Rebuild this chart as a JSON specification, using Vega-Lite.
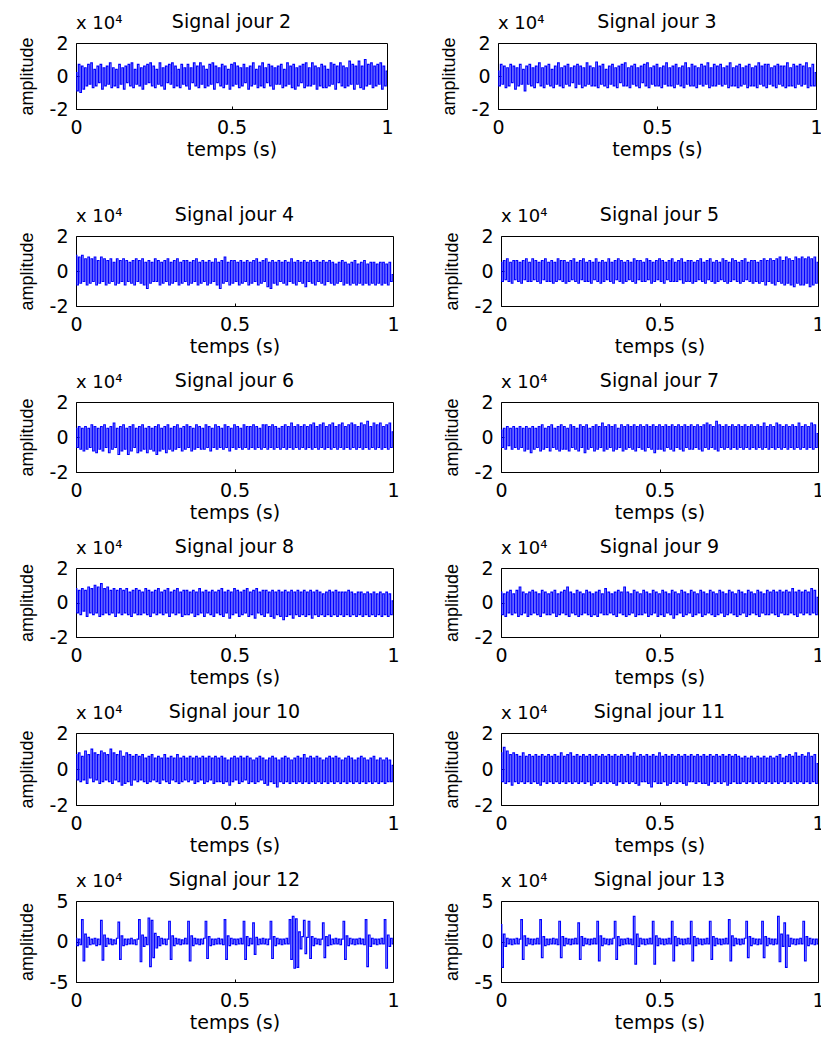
{
"$schema": "https://vega.github.io/schema/vega-lite/v6.json",
"padding": {"left": 17, "top": 12, "right": -4, "bottom": 0},
"config": {
 "locale": {"number": {"decimal": ".", "thousands": ",", "grouping": [3], "currency": ["$", ""], "minus": "-"}},
 "view": {"stroke": "#000000", "strokeWidth": 1},
 "axis": {"grid": false, "domain": false, "labelFont": "DejaVu Sans", "labelFontSize": 19, "labelColor": "#000000", "tickColor": "#000000", "tickSize": -3, "tickWidth": 1, "titleColor": "#000000", "titleFontWeight": "normal", "labelFlush": false, "labelOverlap": false},
 "axisX": {"labelPadding": 12, "titleFont": "DejaVu Sans", "titleFontSize": 19, "titlePadding": 3},
 "axisY": {"labelPadding": 11, "titleFont": "Liberation Sans", "titleFontSize": 18, "titlePadding": 13},
 "title": {"font": "DejaVu Sans", "fontSize": 19, "fontWeight": "normal", "color": "#000000", "baseline": "alphabetic", "offset": -17, "anchor": "middle", "frame": "group"}
},
"datasets": {"sig": [{
"t": [0,0.005,0.01,0.015,0.02,0.025,0.03,0.035,0.04,0.045,0.05,0.055,0.06,0.065,0.07,0.075,0.08,0.085,0.09,0.095,0.1,0.105,0.11,0.115,0.12,0.125,0.13,0.135,0.14,0.145,0.15,0.155,0.16,0.165,0.17,0.175,0.18,0.185,0.19,0.195,0.2,0.205,0.21,0.215,0.22,0.225,0.23,0.235,0.24,0.245,0.25,0.255,0.26,0.265,0.27,0.275,0.28,0.285,0.29,0.295,0.3,0.305,0.31,0.315,0.32,0.325,0.33,0.335,0.34,0.345,0.35,0.355,0.36,0.365,0.37,0.375,0.38,0.385,0.39,0.395,0.4,0.405,0.41,0.415,0.42,0.425,0.43,0.435,0.44,0.445,0.45,0.455,0.46,0.465,0.47,0.475,0.48,0.485,0.49,0.495,0.5,0.505,0.51,0.515,0.52,0.525,0.53,0.535,0.54,0.545,0.55,0.555,0.56,0.565,0.57,0.575,0.58,0.585,0.59,0.595,0.6,0.605,0.61,0.615,0.62,0.625,0.63,0.635,0.64,0.645,0.65,0.655,0.66,0.665,0.67,0.675,0.68,0.685,0.69,0.695,0.7,0.705,0.71,0.715,0.72,0.725,0.73,0.735,0.74,0.745,0.75,0.755,0.76,0.765,0.77,0.775,0.78,0.785,0.79,0.795,0.8,0.805,0.81,0.815,0.82,0.825,0.83,0.835,0.84,0.845,0.85,0.855,0.86,0.865,0.87,0.875,0.88,0.885,0.89,0.895,0.9,0.905,0.91,0.915,0.92,0.925,0.93,0.935,0.94,0.945,0.95,0.955,0.96,0.965,0.97,0.975,0.98,0.985,0.99,0.995,1],
"j2": [0.2,-0.9,0.7,-1.0,0.6,-0.8,0.5,-0.6,0.7,-0.5,0.8,-0.7,0.4,-0.6,0.6,-0.4,0.7,-0.8,0.5,-0.6,0.6,-0.5,0.8,-0.7,0.5,-0.6,0.4,-0.7,0.7,-0.5,0.5,-0.8,0.6,-0.4,0.7,-0.6,0.8,-0.7,0.4,-0.5,0.7,-0.6,0.5,-0.8,0.6,-0.5,0.7,-0.4,0.8,-0.6,0.6,-0.7,0.4,-0.5,0.8,-0.6,0.5,-0.8,0.6,-0.4,0.7,-0.5,0.8,-0.7,0.6,-0.6,0.4,-0.7,0.7,-0.5,0.5,-0.6,0.7,-0.8,0.5,-0.4,0.8,-0.6,0.6,-0.7,0.8,-0.5,0.6,-0.7,0.4,-0.6,0.7,-0.5,0.8,-0.8,0.6,-0.4,0.5,-0.6,0.7,-0.7,0.6,-0.5,0.4,-0.8,0.7,-0.6,0.8,-0.5,0.6,-0.7,0.5,-0.6,0.7,-0.4,0.5,-0.8,0.6,-0.6,0.8,-0.5,0.4,-0.7,0.6,-0.6,0.8,-0.7,0.5,-0.4,0.7,-0.6,0.6,-0.8,0.5,-0.5,0.6,-0.5,0.7,-0.7,0.4,-0.6,0.8,-0.5,0.6,-0.7,0.7,-0.8,0.5,-0.6,0.6,-0.4,0.7,-0.7,0.8,-0.6,0.5,-0.6,0.8,-0.5,0.6,-0.8,0.5,-0.6,0.7,-0.7,0.6,-0.7,0.4,-0.6,0.8,-0.5,0.7,-0.8,0.6,-0.4,0.8,-0.6,0.6,-0.7,0.5,-0.6,0.9,-0.5,0.7,-0.8,0.6,-0.5,0.9,-0.7,0.6,-0.8,1.0,-0.6,0.7,-0.5,0.8,-0.7,0.6,-0.6,0.7,-0.5,0.8,-0.8,0.6,-0.6,0.3],
"j3": [0.3,-0.6,0.7,-0.5,0.6,-0.7,0.5,-0.6,0.7,-0.4,0.6,-0.8,0.5,-0.6,0.7,-0.5,0.4,-0.9,0.6,-0.5,0.7,-0.6,0.5,-0.7,0.6,-0.4,0.8,-0.6,0.5,-0.7,0.6,-0.5,0.7,-0.6,0.4,-0.7,0.6,-0.5,0.8,-0.6,0.5,-0.7,0.6,-0.5,0.7,-0.6,0.5,-0.4,0.6,-0.7,0.7,-0.5,0.6,-0.7,0.5,-0.6,0.8,-0.5,0.6,-0.6,0.5,-0.6,0.85,-0.7,0.6,-0.5,0.7,-0.6,0.4,-0.7,0.6,-0.5,0.7,-0.6,0.5,-0.7,0.6,-0.4,0.7,-0.6,0.8,-0.6,0.5,-0.7,0.6,-0.5,0.7,-0.6,0.5,-0.7,0.6,-0.4,0.7,-0.6,0.8,-0.7,0.5,-0.5,0.6,-0.6,0.7,-0.6,0.5,-0.7,0.6,-0.5,0.8,-0.6,0.5,-0.6,0.6,-0.7,0.7,-0.5,0.5,-0.6,0.6,-0.7,0.8,-0.5,0.5,-0.6,0.7,-0.6,0.6,-0.7,0.5,-0.5,0.7,-0.6,0.6,-0.5,0.8,-0.7,0.5,-0.6,0.7,-0.6,0.6,-0.5,0.7,-0.6,0.5,-0.5,0.6,-0.7,0.8,-0.6,0.5,-0.6,0.6,-0.7,0.7,-0.6,0.5,-0.5,0.6,-0.7,0.7,-0.6,0.5,-0.6,0.6,-0.7,0.8,-0.5,0.6,-0.6,0.7,-0.7,0.7,-0.5,0.5,-0.6,0.6,-0.7,0.7,-0.5,0.6,-0.6,0.6,-0.7,0.8,-0.6,0.5,-0.6,0.7,-0.7,0.6,-0.5,0.7,-0.6,0.6,-0.5,0.8,-0.7,0.5,-0.6,0.7,-0.6,0.2],
"j4": [0.9,-0.8,0.8,-0.7,0.9,-0.6,0.7,-0.8,0.8,-0.7,0.7,-0.6,0.8,-0.8,0.6,-0.7,0.8,-0.6,0.7,-0.8,0.6,-0.7,0.7,-0.6,0.5,-0.8,0.7,-0.7,0.6,-0.6,0.7,-0.8,0.6,-0.6,0.5,-0.7,0.6,-0.8,0.7,-0.6,0.6,-0.7,0.7,-0.8,0.5,-1.0,0.6,-0.7,0.5,-0.6,0.7,-0.6,0.6,-0.8,0.5,-0.7,0.6,-0.6,0.7,-0.8,0.5,-0.7,0.6,-0.6,0.7,-0.8,0.5,-0.7,0.6,-0.6,0.6,-0.8,0.5,-0.7,0.6,-0.6,0.7,-0.8,0.5,-0.7,0.6,-0.6,0.5,-0.8,0.6,-0.7,0.5,-0.6,0.7,-0.8,0.5,-1.0,0.6,-0.7,0.8,-0.6,0.5,-0.8,0.6,-0.7,0.6,-0.6,0.5,-0.8,0.6,-0.7,0.5,-0.6,0.6,-0.8,0.5,-0.7,0.6,-0.6,0.7,-0.8,0.5,-0.7,0.6,-0.6,0.7,-0.9,0.5,-1.0,0.6,-0.7,0.5,-0.8,0.6,-0.6,0.5,-0.7,0.6,-0.8,0.5,-0.6,0.7,-0.7,0.5,-0.8,0.6,-0.6,0.5,-0.7,0.6,-0.9,0.5,-0.6,0.6,-0.7,0.5,-0.8,0.6,-0.6,0.5,-0.7,0.6,-0.8,0.5,-0.6,0.6,-0.7,0.5,-0.8,0.4,-0.7,0.5,-0.6,0.6,-0.8,0.5,-0.7,0.4,-0.8,0.5,-0.7,0.6,-0.8,0.4,-0.7,0.5,-0.8,0.6,-0.7,0.4,-0.8,0.5,-0.7,0.5,-0.8,0.4,-0.7,0.5,-0.8,0.5,-0.7,0.4,-0.8,0.5,-0.6,-0.2],
"j5": [0.5,-0.6,0.6,-0.5,0.7,-0.6,0.5,-0.7,0.6,-0.5,0.6,-0.6,0.5,-0.7,0.6,-0.5,0.7,-0.6,0.5,-0.6,0.7,-0.5,0.6,-0.6,0.5,-0.7,0.6,-0.5,0.7,-0.6,0.5,-0.6,0.6,-0.7,0.5,-0.6,0.7,-0.5,0.6,-0.6,0.6,-0.7,0.5,-0.6,0.6,-0.5,0.7,-0.6,0.5,-0.7,0.6,-0.5,0.7,-0.6,0.5,-0.6,0.6,-0.7,0.5,-0.5,0.7,-0.6,0.5,-0.7,0.6,-0.6,0.5,-0.5,0.7,-0.6,0.5,-0.7,0.6,-0.5,0.7,-0.6,0.6,-0.7,0.5,-0.6,0.6,-0.5,0.5,-0.6,0.7,-0.7,0.6,-0.5,0.6,-0.6,0.5,-0.6,0.7,-0.5,0.6,-0.7,0.5,-0.6,0.6,-0.5,0.7,-0.6,0.6,-0.7,0.5,-0.5,0.6,-0.6,0.7,-0.6,0.5,-0.6,0.6,-0.5,0.7,-0.7,0.5,-0.6,0.6,-0.6,0.6,-0.7,0.5,-0.6,0.6,-0.5,0.7,-0.6,0.5,-0.7,0.6,-0.5,0.7,-0.6,0.5,-0.7,0.6,-0.6,0.5,-0.5,0.7,-0.6,0.6,-0.7,0.5,-0.6,0.7,-0.5,0.6,-0.6,0.5,-0.7,0.6,-0.6,0.7,-0.5,0.5,-0.6,0.6,-0.7,0.6,-0.6,0.5,-0.7,0.6,-0.6,0.7,-0.8,0.6,-0.6,0.7,-0.7,0.6,-0.8,0.7,-0.6,0.8,-0.7,0.6,-0.8,0.8,-0.7,0.7,-0.8,0.6,-0.9,0.8,-0.7,0.7,-0.8,0.8,-0.8,0.7,-0.7,0.8,-0.9,0.7,-0.8,0.8,-0.7,0.5],
"j6": [0.5,-0.6,0.6,-0.7,0.5,-0.8,0.6,-0.7,0.5,-0.6,0.7,-0.8,0.6,-0.9,0.5,-0.7,0.6,-0.8,0.7,-0.6,0.5,-0.9,0.6,-0.7,0.8,-0.6,0.5,-1.0,0.6,-0.8,0.7,-0.7,0.5,-1.0,0.6,-0.8,0.7,-0.6,0.5,-0.9,0.6,-0.8,0.7,-0.7,0.5,-0.9,0.6,-0.7,0.5,-0.8,0.6,-1.0,0.7,-0.8,0.5,-0.7,0.6,-0.9,0.7,-0.7,0.5,-0.8,0.6,-0.7,0.7,-0.6,0.5,-0.8,0.6,-0.7,0.7,-0.6,0.6,-0.8,0.5,-0.7,0.7,-0.6,0.6,-0.7,0.5,-0.7,0.7,-0.6,0.6,-0.8,0.5,-0.6,0.7,-0.7,0.6,-0.6,0.5,-0.7,0.7,-0.6,0.6,-0.8,0.5,-0.6,0.7,-0.7,0.6,-0.6,0.5,-0.7,0.7,-0.6,0.6,-0.7,0.6,-0.6,0.7,-0.7,0.6,-0.6,0.5,-0.7,0.7,-0.6,0.7,-0.7,0.6,-0.6,0.7,-0.7,0.6,-0.6,0.5,-0.7,0.6,-0.6,0.7,-0.7,0.6,-0.6,0.8,-0.7,0.6,-0.6,0.7,-0.7,0.6,-0.6,0.7,-0.7,0.6,-0.6,0.7,-0.7,0.8,-0.6,0.6,-0.7,0.7,-0.6,0.8,-0.7,0.6,-0.6,0.7,-0.7,0.8,-0.6,0.6,-0.7,0.7,-0.6,0.8,-0.7,0.6,-0.6,0.7,-0.7,0.8,-0.6,0.7,-0.7,0.6,-0.6,0.8,-0.7,0.7,-0.6,0.9,-0.7,0.6,-0.6,0.8,-0.7,0.7,-0.6,0.8,-0.7,0.6,-0.6,0.7,-0.7,0.8,-0.6,0.3],
"j7": [0.4,-0.6,0.5,-0.7,0.6,-0.5,0.5,-0.7,0.6,-0.6,0.5,-0.7,0.6,-0.6,0.5,-0.8,0.6,-0.7,0.5,-0.9,0.6,-0.7,0.5,-0.6,0.6,-0.8,0.7,-0.7,0.5,-0.6,0.6,-0.8,0.7,-0.6,0.5,-0.7,0.6,-0.8,0.7,-0.7,0.6,-0.7,0.5,-0.8,0.7,-0.6,0.6,-0.7,0.5,-0.8,0.7,-0.6,0.6,-0.9,0.7,-0.7,0.5,-0.6,0.6,-0.8,0.7,-0.7,0.6,-0.6,0.8,-0.8,0.6,-0.7,0.7,-0.6,0.6,-0.8,0.7,-0.7,0.5,-0.6,0.7,-0.8,0.6,-0.7,0.7,-0.6,0.6,-0.7,0.7,-0.8,0.6,-0.6,0.7,-0.7,0.6,-0.8,0.7,-0.6,0.6,-0.7,0.7,-0.9,0.6,-0.7,0.7,-0.7,0.6,-0.8,0.7,-0.6,0.6,-0.7,0.7,-0.8,0.6,-0.6,0.7,-0.7,0.6,-0.8,0.7,-0.6,0.6,-0.7,0.7,-0.7,0.6,-0.6,0.7,-0.7,0.6,-0.8,0.7,-0.6,0.8,-0.7,0.7,-0.6,0.6,-0.7,0.9,-0.8,0.7,-0.6,0.6,-0.7,0.7,-0.6,0.6,-0.7,0.7,-0.6,0.6,-0.7,0.7,-0.6,0.6,-0.7,0.7,-0.6,0.6,-0.7,0.7,-0.6,0.6,-0.7,0.7,-0.6,0.6,-0.7,0.8,-0.6,0.6,-0.7,0.7,-0.6,0.6,-0.7,0.8,-0.6,0.7,-0.7,0.6,-0.6,0.7,-0.7,0.6,-0.6,0.7,-0.7,0.6,-0.6,0.8,-0.7,0.6,-0.6,0.7,-0.7,0.6,-0.6,0.8,-0.7,0.7,-0.6,0.2],
"j8": [0.8,-0.6,0.7,-0.7,0.8,-0.5,0.7,-0.8,0.9,-0.6,0.8,-0.7,1.0,-0.6,0.9,-0.8,1.1,-0.7,0.8,-0.6,0.9,-0.7,0.7,-0.6,0.8,-0.8,0.7,-0.6,0.8,-0.7,0.7,-0.6,0.8,-0.7,0.6,-0.8,0.7,-0.6,0.8,-0.7,0.7,-0.7,0.6,-0.6,0.8,-0.7,0.7,-0.8,0.6,-0.6,0.7,-0.7,0.8,-0.6,0.6,-0.7,0.7,-0.6,0.8,-0.8,0.6,-0.6,0.7,-0.7,0.8,-0.6,0.6,-0.8,0.7,-0.7,0.7,-0.7,0.6,-0.6,0.7,-0.8,0.6,-0.7,0.8,-0.6,0.6,-0.8,0.7,-0.6,0.6,-0.7,0.7,-0.8,0.6,-0.6,0.7,-0.7,0.8,-0.8,0.6,-0.6,0.7,-0.9,0.6,-0.7,0.8,-0.6,0.7,-0.8,0.6,-0.7,0.7,-0.6,0.8,-0.8,0.6,-0.7,0.7,-0.9,0.8,-0.6,0.6,-0.7,0.7,-0.8,0.7,-0.6,0.6,-0.8,0.7,-0.9,0.6,-0.7,0.7,-0.8,0.6,-1.0,0.7,-0.8,0.6,-0.7,0.7,-0.9,0.6,-0.7,0.7,-0.8,0.6,-0.7,0.7,-0.8,0.6,-0.7,0.7,-0.9,0.6,-0.7,0.7,-0.8,0.6,-0.7,0.5,-0.8,0.6,-0.7,0.7,-0.8,0.6,-0.7,0.7,-0.8,0.6,-0.7,0.6,-0.8,0.6,-0.7,0.7,-0.8,0.6,-0.7,0.5,-0.8,0.6,-0.7,0.6,-0.8,0.5,-0.7,0.6,-0.8,0.5,-0.7,0.6,-0.8,0.5,-0.7,0.6,-0.8,0.5,-0.7,0.6,-0.8,0.5,-0.7,0.1],
"j9": [0.6,-0.7,0.5,-0.8,0.6,-0.6,0.7,-0.7,0.5,-0.6,0.7,-0.8,0.9,-0.7,0.6,-0.6,0.5,-0.8,0.6,-0.7,0.7,-0.6,0.6,-0.7,0.5,-0.8,0.7,-0.6,0.6,-0.7,0.5,-0.7,0.6,-0.6,0.7,-0.8,0.5,-0.7,0.6,-0.6,0.7,-0.7,0.9,-0.8,0.6,-0.6,0.5,-0.7,0.7,-0.8,0.6,-0.7,0.5,-0.6,0.7,-0.7,0.6,-0.8,0.5,-0.7,0.6,-0.8,0.7,-0.6,0.5,-0.7,0.8,-0.7,0.6,-0.6,0.5,-0.7,0.6,-0.8,0.7,-0.6,0.6,-0.7,0.9,-0.8,0.6,-0.7,0.5,-0.6,0.7,-0.8,0.6,-0.7,0.5,-0.7,0.7,-0.6,0.6,-0.8,0.5,-0.7,0.7,-0.6,0.6,-0.8,0.5,-0.7,0.7,-0.8,0.6,-0.6,0.5,-0.7,0.7,-0.9,0.6,-0.7,0.5,-0.6,0.7,-0.8,0.6,-0.7,0.5,-0.6,0.7,-0.8,0.6,-0.7,0.5,-0.6,0.7,-0.8,0.6,-0.7,0.5,-0.6,0.7,-0.7,0.6,-0.8,0.5,-0.7,0.7,-0.6,0.6,-0.8,0.5,-0.7,0.7,-0.6,0.6,-0.7,0.5,-0.8,0.7,-0.7,0.6,-0.6,0.5,-0.8,0.7,-0.7,0.6,-0.6,0.5,-0.7,0.7,-0.8,0.6,-0.6,0.5,-0.7,0.7,-0.7,0.6,-0.6,0.7,-0.7,0.6,-0.8,0.7,-0.6,0.6,-0.7,0.7,-0.7,0.6,-0.6,0.8,-0.7,0.6,-0.8,0.7,-0.6,0.6,-0.7,0.7,-0.6,0.6,-0.7,0.8,-0.6,0.7,-0.7,0.3],
"j10": [0.8,-0.6,0.9,-0.7,0.7,-0.6,1.0,-0.8,0.8,-0.5,1.1,-0.7,0.9,-0.6,0.8,-0.8,1.0,-0.7,0.9,-0.6,0.8,-0.7,1.1,-0.8,0.9,-0.6,0.8,-0.7,1.0,-0.9,0.7,-0.8,0.9,-0.7,0.8,-0.9,0.7,-0.6,0.8,-0.7,0.7,-0.6,0.8,-0.7,0.6,-0.8,0.7,-0.7,0.8,-0.6,0.6,-0.7,0.7,-0.8,0.6,-0.6,0.8,-0.7,0.6,-0.8,0.7,-0.6,0.6,-0.7,0.8,-0.8,0.6,-0.7,0.7,-0.6,0.6,-0.7,0.7,-0.6,0.6,-0.8,0.7,-0.7,0.6,-0.6,0.7,-0.8,0.6,-0.7,0.7,-0.6,0.6,-0.8,0.7,-0.7,0.6,-0.7,0.7,-0.8,0.6,-0.7,0.5,-0.9,0.6,-0.7,0.7,-0.6,0.6,-0.8,0.7,-0.7,0.6,-0.6,0.7,-0.8,0.6,-0.7,0.5,-0.8,0.6,-0.7,0.7,-0.6,0.6,-0.8,0.5,-0.9,0.6,-0.7,0.7,-0.8,0.6,-1.0,0.5,-0.7,0.6,-0.8,0.7,-0.7,0.6,-0.8,0.5,-0.7,0.6,-0.8,0.7,-0.7,0.6,-0.8,0.8,-0.7,0.6,-0.8,0.7,-0.7,0.6,-0.8,0.7,-0.7,0.6,-0.8,0.5,-0.7,0.6,-0.8,0.7,-0.7,0.6,-0.8,0.7,-0.7,0.6,-0.8,0.5,-0.7,0.6,-0.8,0.7,-0.7,0.6,-0.8,0.5,-0.7,0.6,-0.8,0.7,-0.7,0.6,-0.8,0.5,-0.7,0.6,-0.8,0.7,-0.7,0.5,-0.8,0.6,-0.7,0.5,-0.8,0.6,-0.7,0.5,-0.7,0.2],
"j11": [0.9,-0.7,1.2,-0.8,1.0,-0.7,0.8,-0.9,0.9,-0.7,0.8,-0.8,0.7,-0.7,0.9,-0.8,0.7,-0.7,0.8,-0.8,0.7,-0.7,0.8,-0.8,0.7,-0.9,0.8,-0.7,0.7,-0.8,0.8,-0.7,0.7,-0.8,0.8,-0.7,0.7,-0.8,0.9,-0.7,0.7,-0.8,0.8,-0.7,0.9,-0.8,0.7,-0.7,0.8,-0.8,0.7,-0.7,0.8,-0.8,0.7,-0.7,0.8,-0.9,0.7,-0.8,0.8,-0.7,0.7,-0.8,0.8,-0.7,0.7,-0.8,0.8,-0.7,0.7,-0.8,0.8,-0.9,0.7,-0.7,0.8,-0.8,0.7,-0.7,0.8,-0.8,0.7,-0.7,0.9,-0.8,0.7,-0.9,0.8,-0.7,0.7,-0.7,0.8,-0.8,0.7,-1.0,0.8,-0.7,0.7,-0.8,0.9,-0.8,0.7,-0.7,0.8,-0.9,0.7,-0.8,0.8,-0.7,0.7,-0.8,0.8,-0.7,0.7,-0.8,0.8,-0.9,0.7,-0.7,0.8,-0.7,0.7,-0.8,0.8,-0.7,0.7,-0.8,0.8,-0.8,0.7,-0.9,0.8,-0.7,0.7,-0.8,0.8,-0.7,0.7,-0.8,0.8,-0.7,0.7,-0.9,0.8,-0.8,0.7,-0.7,0.8,-0.8,0.7,-0.8,0.6,-0.7,0.7,-0.8,0.6,-0.7,0.7,-0.8,0.6,-0.7,0.7,-0.8,0.6,-0.7,0.7,-0.8,0.6,-0.7,0.7,-0.8,0.6,-0.7,0.7,-0.8,0.8,-0.7,0.6,-0.8,0.7,-0.7,0.8,-0.8,0.7,-0.7,0.9,-0.8,0.7,-0.7,0.8,-0.8,0.7,-0.7,0.9,-0.8,0.7,-0.7,0.8,-0.8,0.3],
"j12": [0.4,-0.5,0.3,-0.4,2.7,-2.4,0.9,-0.7,0.5,-0.4,0.3,-0.3,0.4,-0.5,0.3,-0.4,2.6,-2.3,0.8,-0.6,0.4,-0.3,0.3,-0.4,0.2,-0.3,0.4,2.4,-2.2,0.7,-0.5,0.3,-0.4,0.3,-0.3,0.4,-0.3,0.2,-0.4,0.3,2.7,-2.5,0.8,-0.6,0.5,-0.4,2.9,-3.1,2.6,-2.0,1.0,-0.8,0.6,-0.5,0.4,-0.3,0.3,-0.4,0.3,2.5,-2.2,0.7,-0.5,0.4,-0.3,0.3,-0.4,0.2,-0.3,0.4,-0.3,2.5,-2.4,0.7,-0.5,0.4,-0.3,0.3,-0.4,0.3,-0.3,0.4,2.5,-2.1,0.6,-0.5,0.3,-0.4,0.3,-0.3,0.4,-0.3,0.3,-0.4,2.7,-2.2,0.7,-0.5,0.4,-0.3,0.3,-0.4,0.3,-0.3,0.4,-0.3,2.5,-2.2,0.6,-0.5,0.4,-0.3,2.3,-1.6,0.5,-0.4,0.3,-0.3,0.4,-0.3,0.3,-0.4,0.3,2.5,-2.1,0.6,-0.5,0.4,-0.3,0.3,-0.4,0.3,-0.3,0.4,-0.3,2.7,-2.2,3.1,-3.3,2.8,-3.2,1.2,-0.9,0.6,2.6,-1.5,0.5,2.5,-2.1,0.6,-0.5,0.4,-0.3,0.3,-0.4,0.3,2.3,-2.0,0.6,-0.5,0.8,-0.4,0.3,-0.3,0.4,-0.3,0.3,-0.4,0.3,2.5,-2.2,0.7,-0.5,0.4,-0.3,0.3,-0.4,0.3,-0.3,0.4,-0.3,0.3,-0.4,2.7,-3.1,0.8,-0.6,0.4,-0.3,0.3,-0.4,0.3,-0.3,0.4,-0.3,2.7,-3.3,0.8,-0.6,0.4,-0.3],
"j13": [2.1,-3.2,0.9,-0.6,0.4,-0.3,0.3,-0.4,0.3,-0.3,0.4,-0.3,0.3,2.7,-2.2,0.7,-0.5,0.4,-0.3,0.3,-0.4,0.3,-0.3,0.4,-0.3,2.7,-2.0,0.6,-0.5,0.3,-0.4,0.3,-0.3,0.4,-0.3,0.3,-0.4,2.5,-2.0,0.6,-0.5,0.4,-0.3,0.3,-0.4,0.3,-0.3,0.4,-0.3,2.3,-2.2,0.6,-0.5,0.4,-0.3,0.3,-0.4,0.3,-0.3,0.4,-0.3,2.5,-2.4,0.7,-0.5,0.4,-0.3,0.3,-0.4,0.3,-0.3,0.4,2.5,-2.2,0.6,-0.5,0.3,-0.4,0.3,-0.3,0.4,-0.3,0.3,-0.4,3.1,-2.8,0.9,-0.6,0.4,-0.3,0.3,-0.4,0.3,-0.3,0.4,-0.3,2.5,-2.8,0.7,-0.5,0.4,-0.3,0.3,-0.4,0.3,-0.3,0.4,-0.3,2.5,-2.4,0.6,-0.5,0.4,-0.3,0.3,-0.4,0.3,-0.3,0.4,-0.3,2.5,-2.4,0.6,-0.5,0.4,-0.3,0.3,-0.4,0.3,-0.3,0.4,-0.3,2.5,-2.2,0.6,-0.5,0.4,-0.3,0.3,-0.4,0.3,-0.3,0.4,-0.3,2.7,-2.4,0.7,-0.5,0.4,-0.3,0.3,-0.4,0.3,-0.3,0.4,2.5,-2.0,0.6,-0.5,0.4,-0.3,0.3,-0.4,0.3,-0.3,2.5,-2.0,0.6,-0.5,0.4,-0.3,0.3,-0.4,0.3,-0.3,3.1,-2.5,0.9,-0.6,2.3,-3.2,0.8,-0.6,0.4,-0.3,0.3,-0.4,0.3,-0.3,0.4,-0.3,2.5,-2.4,0.6,-0.5,0.4,-0.3,0.3,-0.4,0.3,-0.3]
}]},
"data": {"name": "sig"},
"transform": [
 {"flatten": ["t","j2","j3","j4","j5","j6","j7","j8","j9","j10","j11","j12","j13"]},
 {"fold": ["j2","j3","j4","j5","j6","j7","j8","j9","j10","j11","j12","j13"], "as": ["jour","amplitude"]}
],
"spacing": 45,
"vconcat": [
 {"hconcat": [
  {"width": 311, "height": 66, "title": "Signal jour 2", "layer": [
   {"transform": [{"filter": "datum.jour === 'j2'"}], "mark": {"type": "line", "color": "#0000ff", "strokeWidth": 1.2, "interpolate": "step"},
    "encoding": {"x": {"field": "t", "type": "quantitative", "scale": {"domain": [0, 1]}, "axis": {"values": [0, 0.5, 1], "tickCount": 3, "format": "~g", "title": "temps (s)", "labelOverlap": false}},
                 "y": {"field": "amplitude", "type": "quantitative", "scale": {"domain": [-2, 2]}, "axis": {"values": [-2, 0, 2], "tickCount": 3, "format": "~g", "title": "amplitude", "labelOverlap": false}}}},
   {"data": {"values": [{"label": "x 10⁴"}]}, "mark": {"type": "text", "align": "left", "baseline": "alphabetic", "dy": -14, "font": "DejaVu Sans", "fontSize": 18, "color": "#000000"},
    "encoding": {"x": {"datum": 0, "type": "quantitative"}, "y": {"datum": 2, "type": "quantitative"}, "text": {"field": "label"}}}
  ]},
  {"width": 318, "height": 66, "title": "Signal jour 3", "layer": [
   {"transform": [{"filter": "datum.jour === 'j3'"}], "mark": {"type": "line", "color": "#0000ff", "strokeWidth": 1.2, "interpolate": "step"},
    "encoding": {"x": {"field": "t", "type": "quantitative", "scale": {"domain": [0, 1]}, "axis": {"values": [0, 0.5, 1], "tickCount": 3, "format": "~g", "title": "temps (s)", "labelOverlap": false}},
                 "y": {"field": "amplitude", "type": "quantitative", "scale": {"domain": [-2, 2]}, "axis": {"values": [-2, 0, 2], "tickCount": 3, "format": "~g", "title": "amplitude", "labelOverlap": false}}}},
   {"data": {"values": [{"label": "x 10⁴"}]}, "mark": {"type": "text", "align": "left", "baseline": "alphabetic", "dy": -14, "font": "DejaVu Sans", "fontSize": 18, "color": "#000000"},
    "encoding": {"x": {"datum": 0, "type": "quantitative"}, "y": {"datum": 2, "type": "quantitative"}, "text": {"field": "label"}}}
  ]}
 ], "spacing": 111, "bounds": "flush"},
 {"concat": [
  {"width": 317, "height": 70, "title": "Signal jour 4", "layer": [
   {"transform": [{"filter": "datum.jour === 'j4'"}], "mark": {"type": "line", "color": "#0000ff", "strokeWidth": 1.2, "interpolate": "step"},
    "encoding": {"x": {"field": "t", "type": "quantitative", "scale": {"domain": [0, 1]}, "axis": {"values": [0, 0.5, 1], "tickCount": 3, "format": "~g", "title": "temps (s)", "labelOverlap": false}},
                 "y": {"field": "amplitude", "type": "quantitative", "scale": {"domain": [-2, 2]}, "axis": {"values": [-2, 0, 2], "tickCount": 3, "format": "~g", "title": "amplitude", "labelOverlap": false}}}},
   {"data": {"values": [{"label": "x 10⁴"}]}, "mark": {"type": "text", "align": "left", "baseline": "alphabetic", "dy": -14, "font": "DejaVu Sans", "fontSize": 18, "color": "#000000"},
    "encoding": {"x": {"datum": 0, "type": "quantitative"}, "y": {"datum": 2, "type": "quantitative"}, "text": {"field": "label"}}}
  ]},
  {"width": 317, "height": 70, "title": "Signal jour 5", "layer": [
   {"transform": [{"filter": "datum.jour === 'j5'"}], "mark": {"type": "line", "color": "#0000ff", "strokeWidth": 1.2, "interpolate": "step"},
    "encoding": {"x": {"field": "t", "type": "quantitative", "scale": {"domain": [0, 1]}, "axis": {"values": [0, 0.5, 1], "tickCount": 3, "format": "~g", "title": "temps (s)", "labelOverlap": false}},
                 "y": {"field": "amplitude", "type": "quantitative", "scale": {"domain": [-2, 2]}, "axis": {"values": [-2, 0, 2], "tickCount": 3, "format": "~g", "title": "amplitude", "labelOverlap": false}}}},
   {"data": {"values": [{"label": "x 10⁴"}]}, "mark": {"type": "text", "align": "left", "baseline": "alphabetic", "dy": -14, "font": "DejaVu Sans", "fontSize": 18, "color": "#000000"},
    "encoding": {"x": {"datum": 0, "type": "quantitative"}, "y": {"datum": 2, "type": "quantitative"}, "text": {"field": "label"}}}
  ]},
  {"width": 317, "height": 70, "title": "Signal jour 6", "layer": [
   {"transform": [{"filter": "datum.jour === 'j6'"}], "mark": {"type": "line", "color": "#0000ff", "strokeWidth": 1.2, "interpolate": "step"},
    "encoding": {"x": {"field": "t", "type": "quantitative", "scale": {"domain": [0, 1]}, "axis": {"values": [0, 0.5, 1], "tickCount": 3, "format": "~g", "title": "temps (s)", "labelOverlap": false}},
                 "y": {"field": "amplitude", "type": "quantitative", "scale": {"domain": [-2, 2]}, "axis": {"values": [-2, 0, 2], "tickCount": 3, "format": "~g", "title": "amplitude", "labelOverlap": false}}}},
   {"data": {"values": [{"label": "x 10⁴"}]}, "mark": {"type": "text", "align": "left", "baseline": "alphabetic", "dy": -14, "font": "DejaVu Sans", "fontSize": 18, "color": "#000000"},
    "encoding": {"x": {"datum": 0, "type": "quantitative"}, "y": {"datum": 2, "type": "quantitative"}, "text": {"field": "label"}}}
  ]},
  {"width": 317, "height": 70, "title": "Signal jour 7", "layer": [
   {"transform": [{"filter": "datum.jour === 'j7'"}], "mark": {"type": "line", "color": "#0000ff", "strokeWidth": 1.2, "interpolate": "step"},
    "encoding": {"x": {"field": "t", "type": "quantitative", "scale": {"domain": [0, 1]}, "axis": {"values": [0, 0.5, 1], "tickCount": 3, "format": "~g", "title": "temps (s)", "labelOverlap": false}},
                 "y": {"field": "amplitude", "type": "quantitative", "scale": {"domain": [-2, 2]}, "axis": {"values": [-2, 0, 2], "tickCount": 3, "format": "~g", "title": "amplitude", "labelOverlap": false}}}},
   {"data": {"values": [{"label": "x 10⁴"}]}, "mark": {"type": "text", "align": "left", "baseline": "alphabetic", "dy": -14, "font": "DejaVu Sans", "fontSize": 18, "color": "#000000"},
    "encoding": {"x": {"datum": 0, "type": "quantitative"}, "y": {"datum": 2, "type": "quantitative"}, "text": {"field": "label"}}}
  ]},
  {"width": 317, "height": 69, "title": "Signal jour 8", "layer": [
   {"transform": [{"filter": "datum.jour === 'j8'"}], "mark": {"type": "line", "color": "#0000ff", "strokeWidth": 1.2, "interpolate": "step"},
    "encoding": {"x": {"field": "t", "type": "quantitative", "scale": {"domain": [0, 1]}, "axis": {"values": [0, 0.5, 1], "tickCount": 3, "format": "~g", "title": "temps (s)", "labelOverlap": false}},
                 "y": {"field": "amplitude", "type": "quantitative", "scale": {"domain": [-2, 2]}, "axis": {"values": [-2, 0, 2], "tickCount": 3, "format": "~g", "title": "amplitude", "labelOverlap": false}}}},
   {"data": {"values": [{"label": "x 10⁴"}]}, "mark": {"type": "text", "align": "left", "baseline": "alphabetic", "dy": -14, "font": "DejaVu Sans", "fontSize": 18, "color": "#000000"},
    "encoding": {"x": {"datum": 0, "type": "quantitative"}, "y": {"datum": 2, "type": "quantitative"}, "text": {"field": "label"}}}
  ]},
  {"width": 317, "height": 69, "title": "Signal jour 9", "layer": [
   {"transform": [{"filter": "datum.jour === 'j9'"}], "mark": {"type": "line", "color": "#0000ff", "strokeWidth": 1.2, "interpolate": "step"},
    "encoding": {"x": {"field": "t", "type": "quantitative", "scale": {"domain": [0, 1]}, "axis": {"values": [0, 0.5, 1], "tickCount": 3, "format": "~g", "title": "temps (s)", "labelOverlap": false}},
                 "y": {"field": "amplitude", "type": "quantitative", "scale": {"domain": [-2, 2]}, "axis": {"values": [-2, 0, 2], "tickCount": 3, "format": "~g", "title": "amplitude", "labelOverlap": false}}}},
   {"data": {"values": [{"label": "x 10⁴"}]}, "mark": {"type": "text", "align": "left", "baseline": "alphabetic", "dy": -14, "font": "DejaVu Sans", "fontSize": 18, "color": "#000000"},
    "encoding": {"x": {"datum": 0, "type": "quantitative"}, "y": {"datum": 2, "type": "quantitative"}, "text": {"field": "label"}}}
  ]},
  {"width": 317, "height": 72, "title": "Signal jour 10", "layer": [
   {"transform": [{"filter": "datum.jour === 'j10'"}], "mark": {"type": "line", "color": "#0000ff", "strokeWidth": 1.2, "interpolate": "step"},
    "encoding": {"x": {"field": "t", "type": "quantitative", "scale": {"domain": [0, 1]}, "axis": {"values": [0, 0.5, 1], "tickCount": 3, "format": "~g", "title": "temps (s)", "labelOverlap": false}},
                 "y": {"field": "amplitude", "type": "quantitative", "scale": {"domain": [-2, 2]}, "axis": {"values": [-2, 0, 2], "tickCount": 3, "format": "~g", "title": "amplitude", "labelOverlap": false}}}},
   {"data": {"values": [{"label": "x 10⁴"}]}, "mark": {"type": "text", "align": "left", "baseline": "alphabetic", "dy": -14, "font": "DejaVu Sans", "fontSize": 18, "color": "#000000"},
    "encoding": {"x": {"datum": 0, "type": "quantitative"}, "y": {"datum": 2, "type": "quantitative"}, "text": {"field": "label"}}}
  ]},
  {"width": 317, "height": 72, "title": "Signal jour 11", "layer": [
   {"transform": [{"filter": "datum.jour === 'j11'"}], "mark": {"type": "line", "color": "#0000ff", "strokeWidth": 1.2, "interpolate": "step"},
    "encoding": {"x": {"field": "t", "type": "quantitative", "scale": {"domain": [0, 1]}, "axis": {"values": [0, 0.5, 1], "tickCount": 3, "format": "~g", "title": "temps (s)", "labelOverlap": false}},
                 "y": {"field": "amplitude", "type": "quantitative", "scale": {"domain": [-2, 2]}, "axis": {"values": [-2, 0, 2], "tickCount": 3, "format": "~g", "title": "amplitude", "labelOverlap": false}}}},
   {"data": {"values": [{"label": "x 10⁴"}]}, "mark": {"type": "text", "align": "left", "baseline": "alphabetic", "dy": -14, "font": "DejaVu Sans", "fontSize": 18, "color": "#000000"},
    "encoding": {"x": {"datum": 0, "type": "quantitative"}, "y": {"datum": 2, "type": "quantitative"}, "text": {"field": "label"}}}
  ]},
  {"width": 317, "height": 81, "title": "Signal jour 12", "layer": [
   {"transform": [{"filter": "datum.jour === 'j12'"}], "mark": {"type": "line", "color": "#0000ff", "strokeWidth": 1.2, "interpolate": "step"},
    "encoding": {"x": {"field": "t", "type": "quantitative", "scale": {"domain": [0, 1]}, "axis": {"values": [0, 0.5, 1], "tickCount": 3, "format": "~g", "title": "temps (s)", "labelOverlap": false}},
                 "y": {"field": "amplitude", "type": "quantitative", "scale": {"domain": [-5, 5]}, "axis": {"values": [-5, 0, 5], "tickCount": 3, "format": "~g", "title": "amplitude", "labelOverlap": false}}}},
   {"data": {"values": [{"label": "x 10⁴"}]}, "mark": {"type": "text", "align": "left", "baseline": "alphabetic", "dy": -14, "font": "DejaVu Sans", "fontSize": 18, "color": "#000000"},
    "encoding": {"x": {"datum": 0, "type": "quantitative"}, "y": {"datum": 5, "type": "quantitative"}, "text": {"field": "label"}}}
  ]},
  {"width": 317, "height": 81, "title": "Signal jour 13", "layer": [
   {"transform": [{"filter": "datum.jour === 'j13'"}], "mark": {"type": "line", "color": "#0000ff", "strokeWidth": 1.2, "interpolate": "step"},
    "encoding": {"x": {"field": "t", "type": "quantitative", "scale": {"domain": [0, 1]}, "axis": {"values": [0, 0.5, 1], "tickCount": 3, "format": "~g", "title": "temps (s)", "labelOverlap": false}},
                 "y": {"field": "amplitude", "type": "quantitative", "scale": {"domain": [-5, 5]}, "axis": {"values": [-5, 0, 5], "tickCount": 3, "format": "~g", "title": "amplitude", "labelOverlap": false}}}},
   {"data": {"values": [{"label": "x 10⁴"}]}, "mark": {"type": "text", "align": "left", "baseline": "alphabetic", "dy": -14, "font": "DejaVu Sans", "fontSize": 18, "color": "#000000"},
    "encoding": {"x": {"datum": 0, "type": "quantitative"}, "y": {"datum": 5, "type": "quantitative"}, "text": {"field": "label"}}}
  ]}
 ], "columns": 2, "spacing": {"row": 96, "column": 108}, "bounds": "flush", "align": "each"}
]
}
